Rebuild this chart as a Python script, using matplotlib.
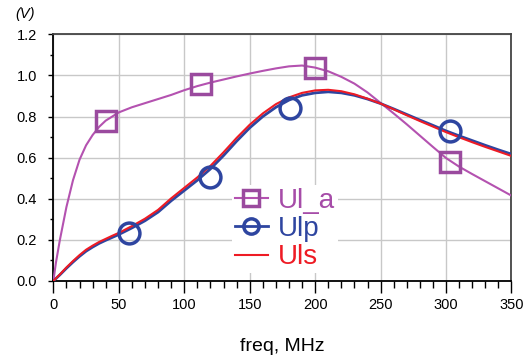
import matplotlib
matplotlib.use("Agg")
import matplotlib.pyplot as plt
from matplotlib.lines import Line2D
from matplotlib.ticker import MultipleLocator

plt.rcParams['font.family'] = ['Liberation Sans', 'DejaVu Sans']

# frequency points (MHz)
freq = [0, 2, 5, 10, 15, 20, 25, 30, 35, 40, 45, 50, 60, 70, 80, 90, 100, 110, 120, 130,
        140, 150, 160, 170, 180, 190, 200, 210, 220, 230, 240, 250, 260, 270, 280, 290,
        300, 310, 320, 330, 340, 350]

ul_a = [0.0, 0.09, 0.20, 0.36, 0.49, 0.59, 0.66, 0.71, 0.75, 0.78, 0.80, 0.82, 0.845, 0.865,
        0.885, 0.905, 0.928, 0.948, 0.965, 0.98, 0.995, 1.009, 1.022, 1.034, 1.044, 1.048,
        1.038, 1.02, 0.993, 0.96, 0.917, 0.866, 0.815, 0.762, 0.707, 0.652, 0.598, 0.556,
        0.52, 0.485, 0.45, 0.415]

ulp = [0.0, 0.012, 0.03, 0.062, 0.092, 0.12, 0.145, 0.165, 0.183, 0.198, 0.212, 0.226, 0.258,
       0.293, 0.335, 0.39, 0.44, 0.49, 0.545, 0.61, 0.68, 0.745, 0.80, 0.845, 0.88, 0.903,
       0.915, 0.92, 0.915, 0.903, 0.885, 0.863, 0.837, 0.81, 0.783, 0.757, 0.73, 0.706,
       0.683, 0.66, 0.638, 0.617]

uls = [0.0, 0.013, 0.032, 0.066, 0.097, 0.126, 0.152, 0.172, 0.19, 0.205, 0.22, 0.234, 0.267,
       0.303, 0.346, 0.402, 0.453, 0.504, 0.56, 0.626, 0.696, 0.76, 0.815, 0.86, 0.893, 0.915,
       0.927, 0.93, 0.923, 0.908, 0.887, 0.863, 0.835, 0.806, 0.778, 0.751, 0.724, 0.699,
       0.675, 0.652, 0.63, 0.608]

# marker positions as drawn on the plot
ula_mx = [40, 113, 200, 303]
ula_my = [0.78, 0.957, 1.035, 0.577]
ulp_mx = [58, 120, 181, 303]
ulp_my = [0.235, 0.508, 0.84, 0.73]

c_mag = '#B452B0'
c_mag_mk = '#9A4A9E'
c_blue = '#2E45A0'
c_red = '#EE1B24'

fig = plt.figure(figsize=(5.23, 3.56), dpi=100)
ax = fig.add_axes([0.102, 0.2107, 0.876, 0.693])

ax.plot(freq, ul_a, color=c_mag, lw=1.5, zorder=3)
ax.plot(freq, ulp, color=c_blue, lw=2.0, zorder=3)
ax.plot(freq, uls, color=c_red, lw=1.5, zorder=3)
ax.plot(ula_mx, ula_my, ls='none', marker='s', ms=14, mfc='none', mec=c_mag_mk, mew=2.5, zorder=4)
ax.plot(ulp_mx, ulp_my, ls='none', marker='o', ms=15, mfc='none', mec=c_blue, mew=2.5, zorder=4)

ax.set_xlim(0, 350)
ax.set_ylim(0, 1.2)
ax.xaxis.set_major_locator(MultipleLocator(50))
ax.xaxis.set_minor_locator(MultipleLocator(10))
ax.yaxis.set_major_locator(MultipleLocator(0.2))
ax.yaxis.set_minor_locator(MultipleLocator(0.1))
ax.yaxis.set_major_formatter(matplotlib.ticker.FormatStrFormatter('%.1f'))
ax.grid(True, which='major', color='#C8C8C8', lw=1.0, zorder=0)

ax.tick_params(axis='x', which='major', length=8.5, width=1.0, pad=4, labelsize=10.5, direction='out')
ax.tick_params(axis='x', which='minor', length=5, width=1.0, direction='out')
ax.tick_params(axis='y', which='major', length=3.6, width=1.0, pad=8, labelsize=10.5, direction='out')
ax.tick_params(axis='y', which='minor', length=2.3, width=1.0, direction='out')

for s in ['left', 'bottom']:
    ax.spines[s].set_color('black')
    ax.spines[s].set_linewidth(1.3)
for s in ['top', 'right']:
    ax.spines[s].set_color('#444444')
    ax.spines[s].set_linewidth(1.3)

handles = [
    Line2D([], [], color=c_mag, lw=1.5, marker='s', ms=11, mfc='none', mec=c_mag_mk, mew=2.5),
    Line2D([], [], color=c_blue, lw=2.0, marker='o', ms=11, mfc='none', mec=c_blue, mew=2.5),
    Line2D([], [], color=c_red, lw=1.5),
]
leg = ax.legend(handles, ['Ul_a', 'Ulp', 'Uls'], loc='center left', bbox_to_anchor=(0.39, 0.21),
                fontsize=20, handlelength=1.2, handletextpad=0.35, labelspacing=0.08,
                borderpad=0.1, borderaxespad=0, frameon=True, fancybox=False)
leg.get_frame().set_facecolor('white')
leg.get_frame().set_edgecolor('none')
leg.get_frame().set_alpha(1)
for t, c in zip(leg.get_texts(), ['#A64CA8', c_blue, c_red]):
    t.set_color(c)

fig.text(15 / 523, 1 - 14 / 356, '(V)', fontsize=10.5, style='italic', ha='left', va='center')
fig.text(282 / 523, 0.014, 'freq, MHz', fontsize=14, ha='center', va='baseline')

fig.savefig('out.png', dpi=100)
